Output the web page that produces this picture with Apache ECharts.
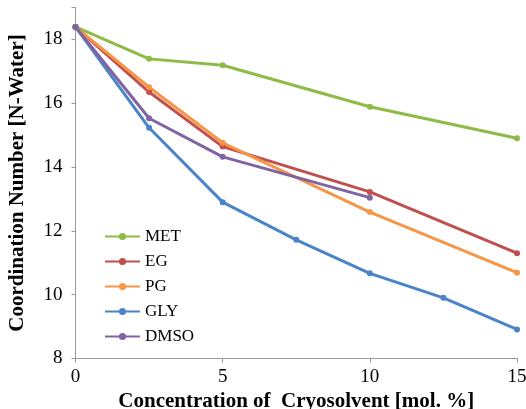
<!DOCTYPE html>
<html><head><meta charset="utf-8">
<script src="https://cdn.jsdelivr.net/npm/echarts@6/dist/echarts.min.js"></script>
<style>html,body{margin:0;padding:0;background:#fff}#c{width:526px;height:409px}</style>
</head><body><div id="c"></div>
<script>
const seriesNames = ['MET','EG','PG','GLY','DMSO'];
const xMET = [0, 2.5, 5, 10, 15];
const yMET = [18.39, 17.39, 17.19, 15.89, 14.9];
const xEG = [0, 2.5, 5, 10, 15];
const yEG = [18.39, 16.35, 14.64, 13.22, 11.3];
const xPG = [0, 2.5, 5, 10, 15];
const yPG = [18.39, 16.5, 14.76, 12.59, 10.69];
const xGLY = [0, 2.5, 5, 7.5, 10, 12.5, 15];
const yGLY = [18.39, 15.23, 12.9, 11.72, 10.67, 9.9, 8.91];
const xDMSO = [0, 2.5, 5, 10];
const yDMSO = [18.39, 15.53, 14.32, 13.04];
const xTicks = [0, 5, 10, 15];
const yTicks = [8, 10, 12, 14, 16, 18];
const colors = ['#8dbb45', '#c0504d', '#f79646', '#4a84c8', '#8064a2'];

const xs = [xMET, xEG, xPG, xGLY, xDMSO];
const ys = [yMET, yEG, yPG, yGLY, yDMSO];
const serif = '"Liberation Serif", "Times New Roman", serif';

const chart = echarts.init(document.getElementById('c'), null, {renderer: 'canvas'});
chart.setOption({
  animation: false,
  color: colors,
  grid: {left: 75.5, right: 9, top: 7.5, bottom: 50.5, containLabel: false, outerBoundsMode: 'none'},
  legend: {
    orient: 'vertical', left: 99, top: 223,
    itemWidth: 35, itemHeight: 9, itemGap: 8,
    textStyle: {fontFamily: serif, fontSize: 17, color: '#000'},
    data: seriesNames
  },
  xAxis: {
    type: 'value', min: 0, max: 15, interval: 5,
    name: 'Concentration of  Cryosolvent [mol. %]',
    nameLocation: 'middle', nameGap: 30,
    nameTextStyle: {fontFamily: serif, fontSize: 21, fontWeight: 'bold', color: '#000'},
    axisLine: {lineStyle: {color: '#999', width: 1}},
    axisTick: {show: true, length: 4, lineStyle: {color: '#999'}},
    splitLine: {show: false},
    axisLabel: {fontFamily: serif, fontSize: 19, color: '#000', margin: 9,
      formatter: v => xTicks.includes(v) ? String(v) : ''}
  },
  yAxis: {
    type: 'value', min: 8, max: 19, interval: 2,
    name: 'Coordination Number [N-Water]',
    nameLocation: 'middle', nameGap: 47,
    nameTextStyle: {fontFamily: serif, fontSize: 21, fontWeight: 'bold', color: '#000'},
    axisLine: {show: true, lineStyle: {color: '#999', width: 1}},
    axisTick: {show: true, length: 4, lineStyle: {color: '#999'}},
    splitLine: {show: false},
    axisLabel: {fontFamily: serif, fontSize: 19, color: '#000', margin: 13,
      formatter: v => yTicks.includes(v) ? String(v) : ''}
  },
  series: seriesNames.map((n, i) => ({
    name: n, type: 'line',
    data: xs[i].map((x, j) => [x, ys[i][j]]),
    symbol: 'circle', symbolSize: 6,
    lineStyle: {width: 3},
    itemStyle: {color: colors[i]}
  }))
});
</script></body></html>
